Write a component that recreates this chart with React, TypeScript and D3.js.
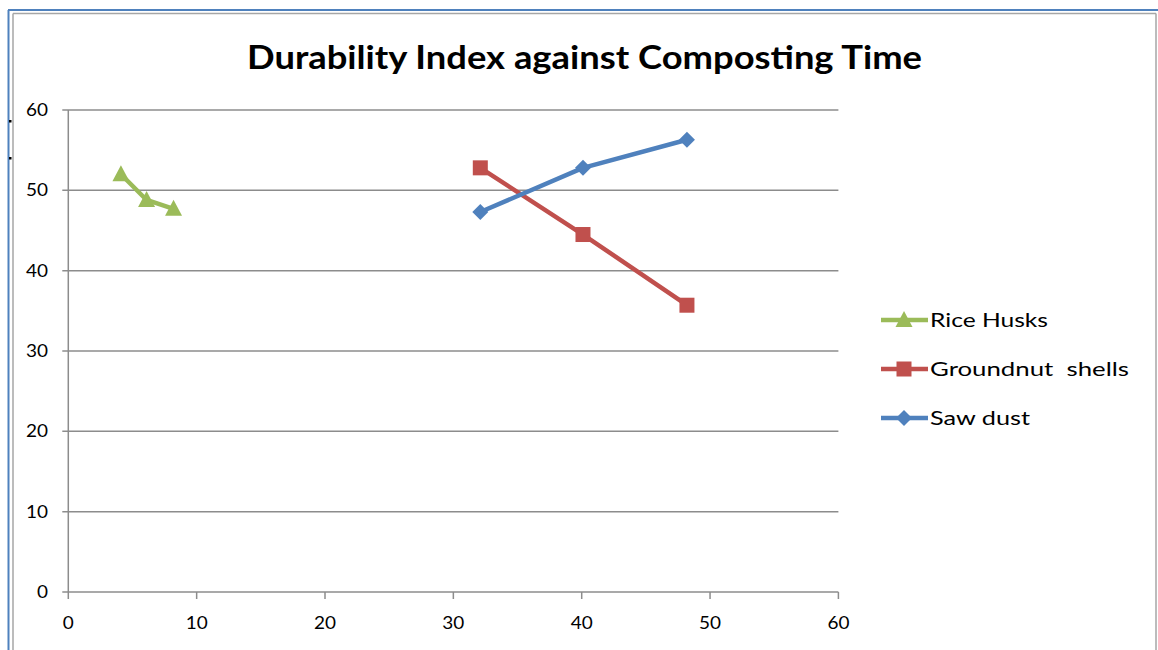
import React from "react";
import * as d3 from "d3";

const title = "Durability Index against Composting Time";
const xTicks = [0, 10, 20, 30, 40, 50, 60];
const yTicks = [0, 10, 20, 30, 40, 50, 60];

const riceX = [4.1, 6.1, 8.2];
const riceY = [52.0, 48.8, 47.7];
const groundX = [32.1, 40.1, 48.2];
const groundY = [52.8, 44.5, 35.7];
const sawX = [32.1, 40.1, 48.2];
const sawY = [47.3, 52.8, 56.3];

const seriesNames = ["Rice Husks", "Groundnut  shells", "Saw dust"];
const seriesColors = ["#9BBB59", "#C0504D", "#4F81BD"];
const seriesShapes = ["triangle", "square", "diamond"];

const FONT = "Lato, 'Open Sans', sans-serif";

function Marker({ shape, x, y, color }: { shape: string; x: number; y: number; color: string }) {
  if (shape === "square") {
    return <rect x={x - 7.5} y={y - 7.5} width={15} height={15} fill={color} />;
  }
  if (shape === "diamond") {
    return <path d={`M${x},${y - 8}L${x + 8},${y}L${x},${y + 8}L${x - 8},${y}Z`} fill={color} />;
  }
  return <path d={`M${x},${y - 9}L${x + 8.5},${y + 7}L${x - 8.5},${y + 7}Z`} fill={color} />;
}

export default function App() {
  const x = d3.scaleLinear().domain([0, 60]).range([68.3, 838.4]);
  const y = d3.scaleLinear().domain([0, 60]).range([592, 110]);
  const line = d3
    .line<[number, number]>()
    .x((d) => x(d[0]))
    .y((d) => y(d[1]));

  const series = [
    { xs: riceX, ys: riceY },
    { xs: groundX, ys: groundY },
    { xs: sawX, ys: sawY },
  ];
  const legendY = [320, 369, 418];
  const legendWidths = [118, 199, 100];

  return (
    <svg
      width={1158}
      height={650}
      style={{ position: "absolute", left: 0, top: 0, background: "#fff" }}
      fontFamily={FONT}
    >
      <rect x={0} y={0} width={1158} height={650} fill="#fff" />
      <line x1={8} y1={10} x2={1158} y2={10} stroke="#4F81BD" strokeWidth={2} />
      <line x1={8.5} y1={10} x2={8.5} y2={650} stroke="#4F81BD" strokeWidth={2} />
      <line x1={13} y1={13.5} x2={1156} y2={13.5} stroke="#a6a6a6" strokeWidth={1.5} />
      <line x1={13} y1={13.5} x2={13} y2={650} stroke="#a6a6a6" strokeWidth={1.5} />
      <line x1={1156} y1={13.5} x2={1156} y2={650} stroke="#a6a6a6" strokeWidth={1.5} />
      <rect x={9} y={120} width={2.5} height={2.5} fill="#000" />
      <rect x={9} y={157} width={2.5} height={2.5} fill="#000" />

      <text
        x={584.5}
        y={69}
        textAnchor="middle"
        fontSize={32}
        fontWeight="bold"
        fill="#000"
        textLength={675}
        lengthAdjust="spacingAndGlyphs"
      >
        {title}
      </text>

      {yTicks.map((t) => (
        <line key={"g" + t} x1={x(0) - 6} x2={x(60)} y1={y(t)} y2={y(t)} stroke="#8c8c8c" strokeWidth={1.5} />
      ))}
      <line x1={x(0)} x2={x(0)} y1={y(60)} y2={y(0)} stroke="#8c8c8c" strokeWidth={1.5} />
      {yTicks.map((t) => (
        <text
          key={"yl" + t}
          x={48}
          y={y(t)}
          dy="0.36em"
          textAnchor="end"
          fontSize={17}
          fill="#000"
          textLength={String(t).length * 11}
          lengthAdjust="spacingAndGlyphs"
        >
          {t}
        </text>
      ))}
      {xTicks.map((t) => (
        <line key={"xt" + t} x1={x(t)} x2={x(t)} y1={y(0)} y2={y(0) + 7} stroke="#8c8c8c" strokeWidth={1.5} />
      ))}
      {xTicks.map((t) => (
        <text
          key={"xl" + t}
          x={x(t)}
          y={623}
          dy="0.36em"
          textAnchor="middle"
          fontSize={17}
          fill="#000"
          textLength={String(t).length * 11}
          lengthAdjust="spacingAndGlyphs"
        >
          {t}
        </text>
      ))}

      {series.map((s, i) => {
        const pts: [number, number][] = s.xs.map((v, j) => [v, s.ys[j]]);
        return (
          <g key={"s" + i}>
            <path d={line(pts) || ""} fill="none" stroke={seriesColors[i]} strokeWidth={4.5} strokeLinejoin="round" />
            {pts.map((p, j) => (
              <Marker key={j} shape={seriesShapes[i]} x={x(p[0])} y={y(p[1])} color={seriesColors[i]} />
            ))}
          </g>
        );
      })}

      {seriesNames.map((name, i) => (
        <g key={"lg" + i}>
          <line x1={881} x2={928} y1={legendY[i]} y2={legendY[i]} stroke={seriesColors[i]} strokeWidth={4.5} />
          <Marker shape={seriesShapes[i]} x={904} y={legendY[i]} color={seriesColors[i]} />
          <text
            x={930}
            y={legendY[i]}
            dy="0.36em"
            fontSize={19.5}
            fill="#000"
            textLength={legendWidths[i]}
            lengthAdjust="spacingAndGlyphs"
            style={{ whiteSpace: "pre" }}
          >
            {name}
          </text>
        </g>
      ))}
    </svg>
  );
}
